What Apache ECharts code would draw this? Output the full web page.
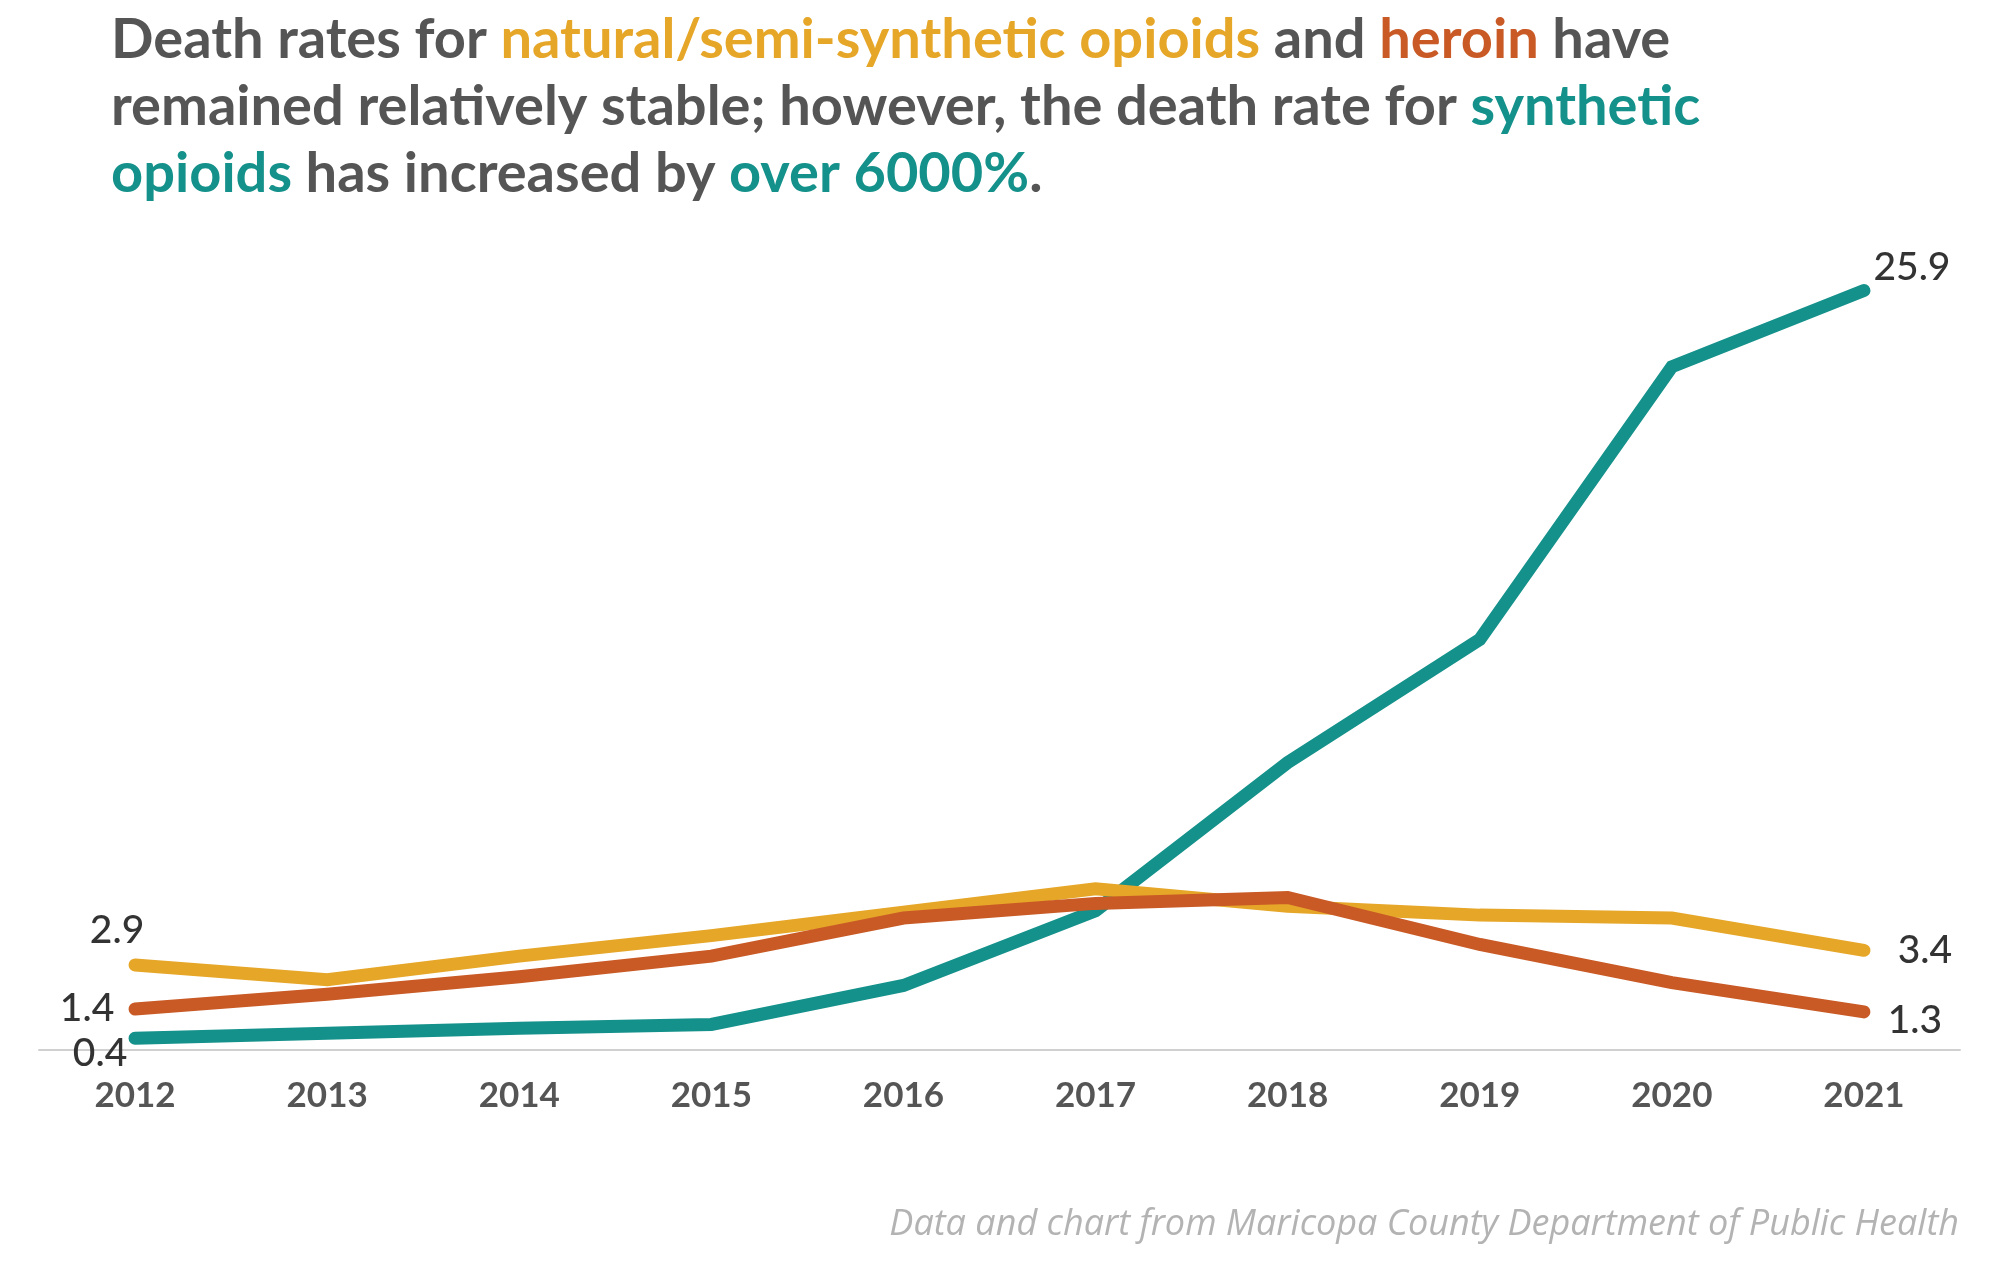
<!DOCTYPE html>
<html>
<head>
<meta charset="utf-8">
<script src="https://cdn.jsdelivr.net/npm/echarts@6/dist/echarts.min.js"></script>
<style>
html,body{margin:0;padding:0;background:#fff;}
#c{width:2000px;height:1282px;}
</style>
</head>
<body>
<div id="c"></div>
<script>
const years = ['2012','2013','2014','2015','2016','2017','2018','2019','2020','2021'];
const synthetic = [0.4, 0.57, 0.74, 0.87, 2.2, 4.75, 9.8, 14.0, 23.3, 25.9];
const natural = [2.9, 2.4, 3.2, 3.9, 4.7, 5.5, 4.9, 4.6, 4.5, 3.4];
const heroin = [1.4, 1.9, 2.5, 3.2, 4.5, 5.0, 5.2, 3.6, 2.3, 1.3];
const sourceText = 'Data and chart from Maricopa County Department of Public Health';

const C_TEAL = '#14918a', C_YEL = '#e6a628', C_ORG = '#c95a26';
const TF = 56, TLH = 67;

function withEndLabels(values, firstOff, lastOff) {
  return values.map((v, i) => {
    if (i === 0 || i === values.length - 1) {
      const off = i === 0 ? firstOff : lastOff;
      return { value: v, label: { show: true, position: 'inside', offset: off,
        formatter: String(v.toFixed(1)), color: '#333', fontSize: 39,
        fontFamily: 'Lato', fontWeight: 500, align: 'center', verticalAlign: 'middle' } };
    }
    return { value: v };
  });
}

const chart = echarts.init(document.getElementById('c'), null, {renderer: 'canvas'});
const lineBase = { type: 'line', showSymbol: true, symbol: 'circle', symbolSize: 0,
  silent: true, animation: false };
const rs = (c) => ({color: c, fontFamily: 'Lato', fontSize: TF, fontWeight: 'bold', lineHeight: TLH});

chart.setOption({
  backgroundColor: '#ffffff',
  animation: false,
  title: [{
    left: 106, top: 1,
    text: '{g|Death rates for }{y|natural/semi-synthetic opioids}{g| and }{o|heroin}{g| have}\n' +
          '{g|remained relatively stable; however, the death rate for }{t|synthetic}\n' +
          '{t|opioids}{g| has increased by }{t|over 6000%}{g|.}',
    textStyle: {
      fontFamily: 'Lato', fontSize: TF, fontWeight: 'bold', lineHeight: TLH,
      rich: { g: rs('#555555'), y: rs(C_YEL), o: rs(C_ORG), t: rs(C_TEAL) }
    }
  }, {
    right: 36, top: 1202,
    text: sourceText,
    textStyle: {fontFamily: 'Open Sans', fontStyle: 'italic', fontWeight: 'normal', fontSize: 36, color: '#b3b3b3'}
  }],
  grid: {left: 39, right: 40, top: 229, bottom: 232},
  xAxis: {
    type: 'category', data: years, boundaryGap: true,
    axisLine: {show: true, lineStyle: {color: '#d0d0d0', width: 2}},
    axisTick: {show: false},
    axisLabel: {color: '#555', fontSize: 35, fontFamily: 'Lato', fontWeight: 'bold', margin: 28}
  },
  yAxis: {
    type: 'value', min: 0, max: 28, show: false,
    splitLine: {show: false}
  },
  series: [
    Object.assign({}, lineBase, {
      name: 'Synthetic opioids', z: 2,
      lineStyle: {color: C_TEAL, width: 13, cap: 'round', join: 'miter'},
      itemStyle: {color: C_TEAL},
      data: withEndLabels(synthetic, [-35, 15], [48, -23])
    }),
    Object.assign({}, lineBase, {
      name: 'Natural/semi-synthetic opioids', z: 3,
      lineStyle: {color: C_YEL, width: 13, cap: 'round', join: 'miter'},
      itemStyle: {color: C_YEL},
      data: withEndLabels(natural, [-18, -35], [61, 0])
    }),
    Object.assign({}, lineBase, {
      name: 'Heroin', z: 4,
      lineStyle: {color: C_ORG, width: 13, cap: 'round', join: 'miter'},
      itemStyle: {color: C_ORG},
      data: withEndLabels(heroin, [-48, -1], [51, 9])
    })
  ]
});
</script>
</body>
</html>
